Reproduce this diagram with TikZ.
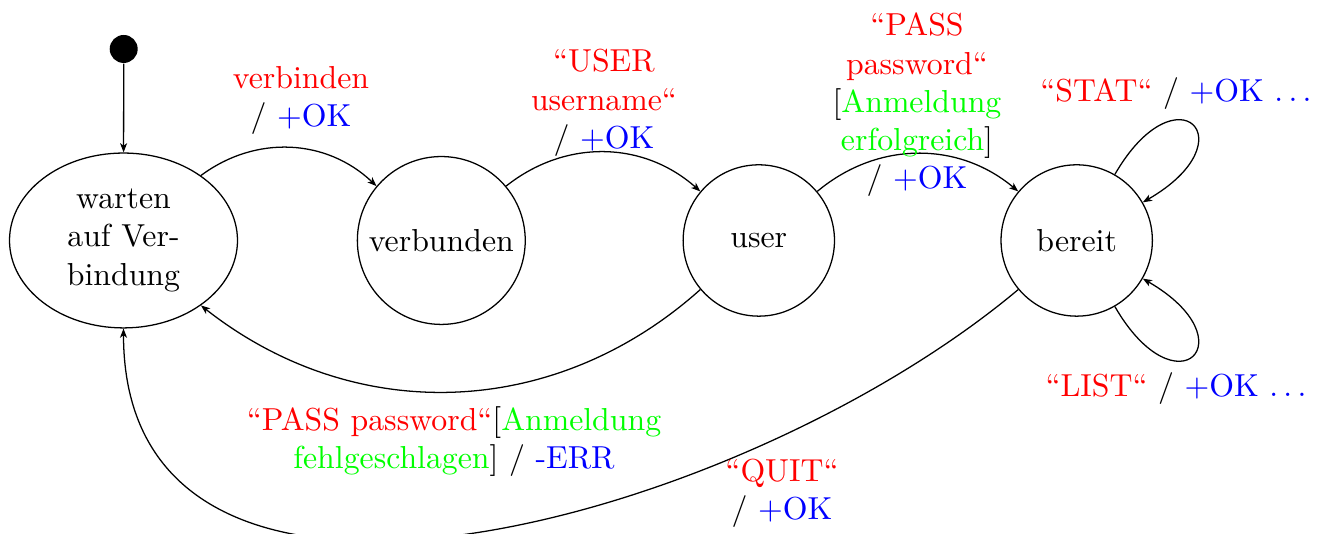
\documentclass[tikz,border=0pt]{standalone}
\usetikzlibrary{arrows.meta,shapes.geometric}

\definecolor{evt}{RGB}{255,0,0}
\definecolor{grd}{RGB}{0,255,0}
\definecolor{act}{RGB}{0,0,255}

\tikzset{
  conn/.style={thin, -{Stealth[length=2.9pt,width=2.2pt,inset=0.8pt]}},
  statebox/.style={draw, thin, circle, inner sep=0.5pt, align=center},
  waitbox/.style={draw, thin, ellipse, inner sep=0pt, align=center,
                  minimum width=71.7pt, minimum height=55pt},
  initdot/.style={circle, fill=black, inner sep=0pt, minimum size=8.8pt},
  lbl/.style={align=center, anchor=base, inner sep=0pt}
}

\begin{document}
\begin{tikzpicture}[x=0.3145pt, y=0.3145pt]
  \useasboundingbox (0,0) rectangle (1324,534);

  % states
  \node[initdot] (start) at (123.7,485) {};
  \node[waitbox] (wait) at (123.5,293.5) {warten\\auf Ver-\\bindung};
  \node[statebox, minimum size=52.8pt] (verb) at (441.3,293.5) {verbunden};
  \node[statebox, minimum size=47.6pt] (user) at (758.8,293.5) {user};
  \node[statebox, minimum size=47.6pt] (ready) at (1076.7,293.5) {bereit};

  % transitions
  \draw[conn] (start) -- (wait);
  \draw[conn] (wait) to[bend left=40] (verb);
  \draw[conn] (verb) to[bend left=40] (user);
  \draw[conn] (user) to[bend left=40] (ready);
  \draw[conn] (ready) to[out=60, in=30, looseness=8] (ready);
  \draw[conn] (ready) to[out=-60, in=-30, looseness=8] (ready);
  \draw[conn] (user) to[bend left=40] (wait);
  \draw[conn] (ready) to[out=220, in=270, looseness=1.04] (wait);

  % transition labels (anchored at the baseline of their last line)
  \node[lbl] (l1) at (301,407.3)
    {\textcolor{evt}{verbinden}\\/ \textcolor{act}{+OK}};
  \node[lbl] (l2) at (604,385.7)
    {\textcolor{evt}{“USER}\\\textcolor{evt}{username“}\\/ \textcolor{act}{+OK}};
  \node[lbl] (l3) at (917,345.5)
    {\textcolor{evt}{“PASS}\\\textcolor{evt}{password“}\\{[}\textcolor{grd}{Anmeldung}\\\textcolor{grd}{erfolgreich}]\\/ \textcolor{act}{+OK}};
  \node[lbl] (l4) at (1176,432.3)
    {\textcolor{evt}{“STAT“} / \textcolor{act}{+OK $\ldots$}};
  \node[lbl] (l5) at (1176,137.3)
    {\textcolor{evt}{“LIST“} / \textcolor{act}{+OK $\ldots$}};
  \node[lbl] (l6) at (454,65.7)
    {\textcolor{evt}{“PASS password“}{[}\textcolor{grd}{Anmeldung}\\\textcolor{grd}{fehlgeschlagen}] / \textcolor{act}{-ERR}};
  \node[lbl] (l7) at (782,14)
    {\textcolor{evt}{“QUIT“}\\/ \textcolor{act}{+OK}};
\end{tikzpicture}
\end{document}
